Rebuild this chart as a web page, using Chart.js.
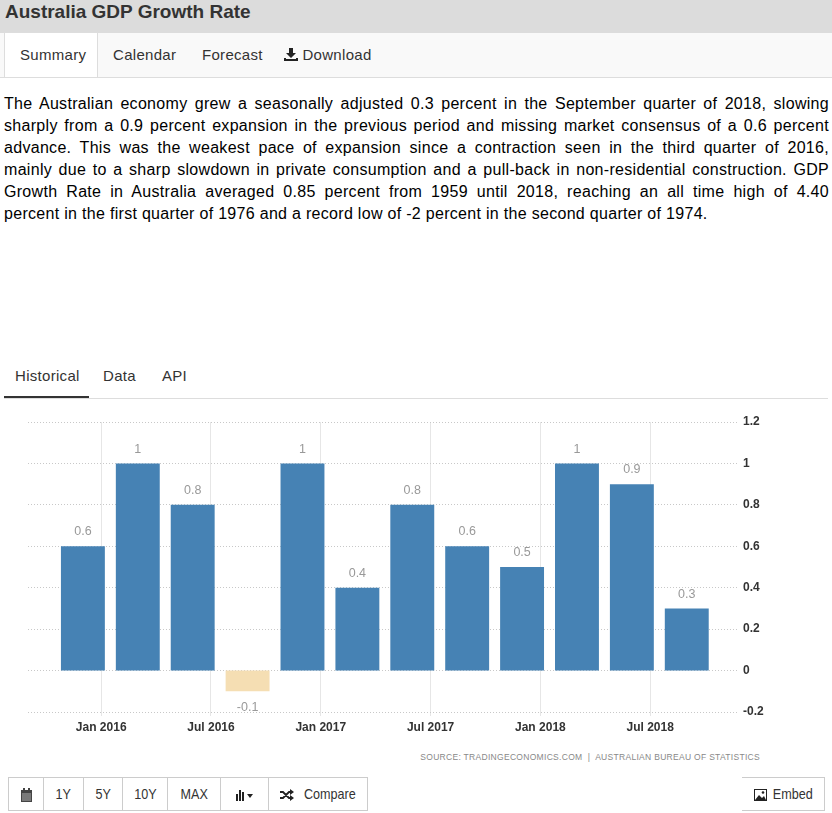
<!DOCTYPE html>
<html>
<head>
<meta charset="utf-8">
<script src="https://cdn.jsdelivr.net/npm/chart.js@4.4.1/dist/chart.umd.min.js"></script>
<style>
  html, body { margin: 0; padding: 0; background: #fff; }
  body { width: 832px; height: 813px; position: relative; overflow: hidden;
         font-family: "Liberation Sans", Arial, sans-serif; color: #333; }
  .title { position: absolute; left: 0; top: 0; width: 832px; height: 33px; background: #dcdcdc; }
  .title h1 { margin: 0; position: absolute; left: 5px; top: 0; line-height: 23px;
              font-size: 19px; font-weight: bold; color: #333; }
  .tabs { position: absolute; left: 0; top: 33px; width: 832px; height: 44px;
          background: #f9f9f9; border-bottom: 1px solid #ddd; }
  .tab { position: absolute; top: 0; height: 44px; line-height: 44px; font-size: 15px;
         letter-spacing: 0.3px; color: #333; }
  .tab.active { background: #fff; border: 1px solid #ddd; border-bottom: none; height: 45px;
                left: 4px; width: 94px; box-sizing: border-box; padding-left: 15px; top: -1px; }
  .text { position: absolute; left: 4px; top: 93px; width: 825px; margin: 0;
          font-size: 16px; line-height: 22px; letter-spacing: 0.3px; color: #000; }
  .text span { display: block; text-align: justify; text-align-last: justify; white-space: nowrap; }
  .text span.last { text-align: left; text-align-last: left; }
  .htabs { position: absolute; left: 4px; top: 360px; width: 824px; height: 38px;
           border-bottom: 1px solid #ddd; }
  .htab { position: absolute; top: 0; line-height: 32px; font-size: 15px; letter-spacing: 0.3px; color: #333; }
  .htab.active { left: 0; width: 85px; height: 38px; border-bottom: 2px solid #333;
                 box-sizing: border-box; padding-left: 11px; }
  #wrap { position: absolute; left: 0; top: 405px; width: 832px; height: 345px; }
  .source { position: absolute; right: 72px; top: 752px; font-size: 8.5px; letter-spacing: 0.3px;
            color: #888; white-space: nowrap; }
  .btn { position: absolute; top: 777px; height: 34px; box-sizing: border-box; border: 1px solid #ccc;
         background: #fff; font-size: 15px; line-height: 32px; text-align: center; color: #333; }
  .btn + .btn { border-left: none; }
  .btn span { display: inline-block; transform: scaleX(0.84); }
  svg { vertical-align: middle; }
</style>
</head>
<body>
<div class="title"><h1>Australia GDP Growth Rate</h1></div>
<div class="tabs">
  <div class="tab active">Summary</div>
  <div class="tab" style="left:113px">Calendar</div>
  <div class="tab" style="left:202px">Forecast</div>
  <div class="tab" style="left:284px"><svg width="14" height="14" viewBox="0 0 14 14" style="margin-top:-4px"><path d="M5 1h4v5h3L7 11 2 6h3z M0 11h2v1h10v-1h2v3H0z" fill="#222"/></svg> Download</div>
</div>
<p class="text"><span>The Australian economy grew a seasonally adjusted 0.3 percent in the September quarter of 2018, slowing</span><span>sharply from a 0.9 percent expansion in the previous period and missing market consensus of a 0.6 percent</span><span>advance. This was the weakest pace of expansion since a contraction seen in the third quarter of 2016,</span><span>mainly due to a sharp slowdown in private consumption and a pull-back in non-residential construction. GDP</span><span>Growth Rate in Australia averaged 0.85 percent from 1959 until 2018, reaching an all time high of 4.40</span><span class="last">percent in the first quarter of 1976 and a record low of -2 percent in the second quarter of 1974.</span></p>
<div class="htabs">
  <div class="htab active">Historical</div>
  <div class="htab" style="left:99px">Data</div>
  <div class="htab" style="left:158px">API</div>
</div>
<div id="wrap"><canvas id="gdpChart"></canvas></div>
<div class="source">SOURCE: TRADINGECONOMICS.COM &nbsp;|&nbsp; AUSTRALIAN BUREAU OF STATISTICS</div>

<div class="btn" style="left:8px;width:36px"><svg width="11" height="14" viewBox="0 0 11 14"><rect x="0" y="2" width="11" height="12" fill="#444"/><rect x="2" y="0" width="2" height="3" fill="#444"/><rect x="7" y="0" width="2" height="3" fill="#444"/><path d="M1 6h9M1 8h9M1 10h9M1 12h9" stroke="#ccc" stroke-width="0.8"/></svg></div>
<div class="btn" style="left:44px;width:40px"><span>1Y</span></div>
<div class="btn" style="left:84px;width:39px"><span>5Y</span></div>
<div class="btn" style="left:123px;width:45px"><span>10Y</span></div>
<div class="btn" style="left:168px;width:53px"><span>MAX</span></div>
<div class="btn" style="left:221px;width:48px"><svg width="20" height="14" viewBox="0 0 20 14"><path d="M1 6h2v7H1zM4 2h2v11H4zM7 4h2v9H7z" fill="#222"/><path d="M12 6h6l-3 4z" fill="#222"/></svg></div>
<div class="btn" style="left:269px;width:99px;text-align:left;padding-left:11px"><svg width="14" height="12" viewBox="0 0 14 12"><path d="M0 3h3l6 6h2M0 9h3l6-6h2" stroke="#222" stroke-width="1.8" fill="none"/><path d="M10 0l4 3-4 3zM10 6l4 3-4 3z" fill="#222"/></svg><span style="margin-left:5px">Compare</span></div>
<div class="btn" style="left:742px;width:83px;text-align:left;padding-left:12px"><svg width="13" height="12" viewBox="0 0 13 12"><rect x="0.5" y="0.5" width="12" height="11" fill="#fff" stroke="#222"/><path d="M1 11l4-5 3 3 2-2 2 4z" fill="#222"/><circle cx="9" cy="3.5" r="1.3" fill="#222"/></svg><span style="margin-left:2px">Embed</span></div>

<script>
// quarterly GDP growth, quarter-on-quarter (%)
const quarters = ['2015-12', '2016-03', '2016-06', '2016-09', '2016-12', '2017-03',
                  '2017-06', '2017-09', '2017-12', '2018-03', '2018-06', '2018-09'];
const growth = [0.6, 1, 0.8, -0.1, 1, 0.4, 0.8, 0.6, 0.5, 1, 0.9, 0.3];
const tickMonths = ['2016-01', '2016-07', '2017-01', '2017-07', '2018-01', '2018-07'];
const tickLabels = ['Jan 2016', 'Jul 2016', 'Jan 2017', 'Jul 2017', 'Jan 2018', 'Jul 2018'];

// months counted from Jan 2016
const monthIndex = s => {
    const [y, m] = s.split('-').map(Number);
    return (y - 2016) * 12 + (m - 1);
};
const tickValues = tickMonths.map(monthIndex);

const valueLabels = {
    id: 'valueLabels',
    afterDatasetsDraw(chart) {
        const ctx = chart.ctx;
        const meta = chart.getDatasetMeta(0);
        ctx.save();
        ctx.font = '12.5px "Liberation Sans", Arial, sans-serif';
        ctx.fillStyle = '#999';
        ctx.textAlign = 'center';
        meta.data.forEach((bar, i) => {
            const v = growth[i];
            if (v >= 0) {
                ctx.textBaseline = 'bottom';
                ctx.fillText(String(v), bar.x, bar.y - 8);
            } else {
                ctx.textBaseline = 'top';
                ctx.fillText(String(v), bar.x, bar.y + 10);
            }
        });
        ctx.restore();
    }
};

const tickFont = { family: '"Liberation Sans", Arial, sans-serif', size: 12, weight: 'bold' };

new Chart(document.getElementById('gdpChart'), {
    type: 'bar',
    data: {
        datasets: [{
            data: quarters.map((q, i) => ({ x: monthIndex(q), y: growth[i] })),
            backgroundColor: growth.map(v => v < 0 ? '#f5deb3' : '#4682b4'),
            borderWidth: 0,
            barPercentage: 0.8,
            categoryPercentage: 1
        }]
    },
    options: {
        responsive: true,
        maintainAspectRatio: false,
        animation: false,
        layout: { padding: { left: 28, top: 17, right: 0, bottom: 0 } },
        plugins: { legend: { display: false }, tooltip: { enabled: false } },
        scales: {
            x: {
                type: 'linear',
                offset: false,
                min: -4,
                max: 34.8,
                afterBuildTicks: s => { s.ticks = tickValues.map(v => ({ value: v })); },
                afterFit: s => { s.height = 38; },
                grid: { offset: false, color: '#e6e6e6', tickLength: 4 },
                border: { display: false },
                ticks: {
                    autoSkip: false,
                    maxRotation: 0,
                    padding: 4,
                    color: '#333',
                    font: tickFont,
                    callback: (v, i) => tickLabels[i]
                }
            },
            y: {
                position: 'right',
                min: -0.2,
                max: 1.2,
                afterFit: s => { s.width = 94; },
                grid: { color: '#c8c8c8', drawTicks: false },
                border: { display: false, dash: [1, 2] },
                ticks: {
                    stepSize: 0.2,
                    padding: 5,
                    color: '#333',
                    font: tickFont,
                    callback: v => String(+v.toFixed(1))
                }
            }
        }
    },
    plugins: [valueLabels]
});
</script>
</body>
</html>
